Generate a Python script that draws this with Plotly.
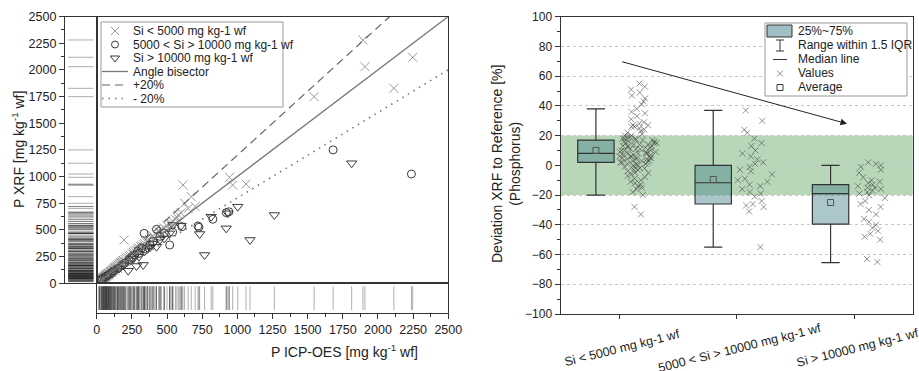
import plotly.graph_objects as go

# ---------------- Left panel data (P ICP-OES vs P XRF, mg/kg wf) ----------------
g1_icp = [12, 18, 22, 25, 30, 34, 38, 40, 45, 48, 50, 55, 58, 60, 63, 66, 70, 72, 75, 78,
          80, 84, 88, 90, 95, 98, 100, 105, 110, 115, 120, 125, 130, 135, 140, 145, 150, 155, 160, 165,
          170, 175, 180, 185, 190, 195, 200, 210, 220, 230, 240, 250, 260, 270, 280, 290, 300, 310, 320, 330,
          340, 350, 360, 375, 390, 400, 420, 440, 460, 480, 500, 520, 540, 560, 580, 600, 613, 625, 650, 672,
          700, 944, 967, 1062, 1546, 1893, 1907, 2113, 2247,
          20, 35, 52, 65, 85, 108, 128, 148, 172, 205, 235, 265, 295, 335, 365, 410, 450, 530, 570, 590]
g1_xrf = [14, 20, 25, 24, 33, 36, 40, 44, 47, 52, 55, 58, 60, 66, 68, 70, 75, 80, 78, 85,
          88, 90, 95, 92, 104, 108, 110, 112, 120, 126, 128, 140, 145, 150, 155, 160, 170, 168, 180, 185,
          190, 195, 200, 210, 215, 406, 225, 235, 245, 255, 262, 280, 290, 300, 310, 325, 330, 345, 350, 365,
          375, 390, 400, 410, 430, 445, 470, 490, 505, 520, 540, 560, 580, 600, 640, 660, 921, 750, 700, 812,
          720, 993, 921, 930, 1749, 2280, 2030, 1827, 2118,
          18, 30, 50, 62, 80, 100, 122, 140, 165, 200, 230, 270, 300, 330, 370, 420, 470, 560, 620, 580]

g2_icp = [40, 60, 80, 100, 120, 150, 180, 200, 230, 250, 270, 290, 300, 320, 337, 350, 380, 400, 425, 450,
          480, 519, 540, 606, 720, 727, 826, 921, 940, 1681, 2238]
g2_xrf = [45, 62, 75, 95, 118, 140, 170, 190, 220, 240, 265, 300, 280, 330, 468, 320, 360, 390, 506, 440,
          470, 359, 480, 530, 537, 525, 600, 662, 670, 1250, 1024]

g3_icp = [50, 70, 90, 110, 130, 160, 190, 224, 240, 260, 283, 300, 330, 340, 360, 380, 400, 425, 450, 480,
          519, 542, 600, 732, 767, 814, 921, 932, 1003, 1090, 1263, 1813]
g3_xrf = [45, 60, 80, 95, 115, 140, 170, 118, 215, 230, 162, 250, 172, 300, 330, 340, 370, 343, 410, 420,
          468, 546, 540, 462, 265, 624, 515, 656, 718, 406, 640, 1125]

left_legend_labels = ["Si < 5000 mg kg-1 wf", "5000 < Si > 10000 mg kg-1 wf", "Si > 10000 mg kg-1 wf",
                      "Angle bisector", "+20%", "- 20%"]
ref_factors = [1.0, 1.2, 0.8]
axis_max = 2500
left_ticks = [0, 250, 500, 750, 1000, 1250, 1500, 1750, 2000, 2250, 2500]

# ---------------- Right panel data (deviation %, phosphorus) ----------------
categories = ["Si < 5000 mg kg-1 wf", "5000 < Si > 10000 mg kg-1 wf", "Si > 10000 mg kg-1 wf"]
dev_g1 = [55, 53, 51, 49, 47, 45, 43, 41, 38, 36, 35, 33, 31, 29, 28, 27, 27, 26, 26, 25, 24, 23, 22, 21,
          20, 20, 19, 19, 18, 18, 18, 17, 17, 17, 16, 16, 16, 15, 15, 15, 14, 14, 14, 13, 13, 13, 12, 12, 12,
          11, 11, 11, 10, 10, 10, 9, 9, 9, 8, 8, 8, 8, 7, 7, 7, 6, 6, 6, 5, 5, 5, 5, 4, 4, 4, 3, 3, 3,
          2, 2, 2, 1, 1, 1, 0, 0, -1, -1, -2, -2, -3, -3, -4, -5, -5, -6, -7, -8, -9, -10, -11, -12, -13,
          -14, -15, -16, -18, -20, -28, -33]
dev_g2 = [37, 30, 24, 22, 18, 15, 13, 10, 8, 6, 4, 2, 1, -1, -3, -4, -6, -9, -10, -11, -13, -14, -16, -18,
          -19, -21, -24, -26, -27, -28, -31, -55]
dev_g3 = [2, 1, 0, -1, -3, -5, -8, -10, -11, -12, -13, -14, -15, -15, -16, -17, -18, -19, -20, -22, -24,
          -26, -28, -30, -33, -36, -38, -40, -42, -44, -46, -48, -50, -63, -65]
box_q1 = [2, -26, -39.5]
box_median = [8, -11.7, -19]
box_q3 = [17, 0, -13]
box_lower = [-20, -55, -65.5]
box_upper = [38, 37, 0]
box_mean = [10, -9.5, -25]
band = [-20, 20]
trend_from = [1.01, 70]
trend_to = [2.94, 28]
right_legend_labels = ["25%~75%", "Range within 1.5 IQR", "Median line", "Values", "Average"]

# ---------------- styling ----------------
W, H = 919, 371
FONT = "Liberation Sans, Arial, sans-serif"
AX = "#333333"
G1C = "#9a9a9a"
DK = "#3c3c3c"
BOXFILL = "rgba(70,130,140,0.45)"
RUG = "rgba(0,0,0,0.32)"


def px_x(p):
    return p / W


def px_y(p):
    return 1 - p / H


fig = go.Figure()

# main scatter (x, y)
fig.add_trace(go.Scatter(x=g1_icp, y=g1_xrf, mode="markers", xaxis="x", yaxis="y",
                         marker=dict(symbol="x-thin-open", size=9, color=G1C, line=dict(width=1, color=G1C)),
                         showlegend=False, hoverinfo="skip"))
fig.add_trace(go.Scatter(x=g2_icp, y=g2_xrf, mode="markers", xaxis="x", yaxis="y",
                         marker=dict(symbol="circle-open", size=8, color=DK, line=dict(width=1, color=DK)),
                         showlegend=False, hoverinfo="skip"))
fig.add_trace(go.Scatter(x=g3_icp, y=g3_xrf, mode="markers", xaxis="x", yaxis="y",
                         marker=dict(symbol="triangle-down-open", size=9, color=DK, line=dict(width=1, color=DK)),
                         showlegend=False, hoverinfo="skip"))

ref_styles = [dict(color="#777777", width=1.3, dash="solid"),
              dict(color="#666666", width=1.2, dash="8px,5px"),
              dict(color="#777777", width=1.6, dash="1.5px,5px")]
for f, st in zip(ref_factors, ref_styles):
    xe = min(axis_max, axis_max / f)
    fig.add_trace(go.Scatter(x=[0, xe], y=[0, f * xe], mode="lines", xaxis="x", yaxis="y",
                             line=st, showlegend=False, hoverinfo="skip"))

# rugs
all_icp = g1_icp + g2_icp + g3_icp
all_xrf = g1_xrf + g2_xrf + g3_xrf
rx, ry = [], []
for v in all_icp:
    rx += [v, v, None]
    ry += [0.1, 0.9, None]
fig.add_trace(go.Scatter(x=rx, y=ry, mode="lines", xaxis="x3", yaxis="y3",
                         line=dict(color=RUG, width=1), showlegend=False, hoverinfo="skip"))
lx, ly = [], []
for v in all_xrf:
    lx += [0.1, 0.9, None]
    ly += [v, v, None]
fig.add_trace(go.Scatter(x=lx, y=ly, mode="lines", xaxis="x2", yaxis="y2",
                         line=dict(color=RUG, width=1), showlegend=False, hoverinfo="skip"))

# right panel boxes
cat_pos = [1, 2, 3]
box_x = [c - 0.2 for c in cat_pos]
fig.add_trace(go.Box(x=box_x, q1=box_q1, median=box_median, q3=box_q3,
                     lowerfence=box_lower, upperfence=box_upper, width=0.31, whiskerwidth=0.5,
                     fillcolor=BOXFILL, line=dict(color=AX, width=1.2), boxpoints=False,
                     xaxis="x4", yaxis="y4", showlegend=False, hoverinfo="skip"))
fig.add_trace(go.Scatter(x=box_x, y=box_mean, mode="markers", xaxis="x4", yaxis="y4",
                         marker=dict(symbol="square-open", size=6, color="#555555", line=dict(width=1, color="#555555")),
                         showlegend=False, hoverinfo="skip"))
for c, vals in zip(cat_pos, [dev_g1, dev_g2, dev_g3]):
    fig.add_trace(go.Box(y=vals, x=[c + 0.16] * len(vals), boxpoints="all", jitter=1, pointpos=0, width=0.32,
                         fillcolor="rgba(0,0,0,0)", line=dict(width=0, color="rgba(0,0,0,0)"),
                         marker=dict(symbol="x-thin-open", size=6, color="rgba(60,60,60,0.55)",
                                     line=dict(width=1, color="rgba(60,60,60,0.55)")),
                         xaxis="x4", yaxis="y4", showlegend=False, hoverinfo="skip"))

# legend marker symbols on full-figure overlay axis (pixel coordinates)
leg_marks = [(115, 31, "x-thin-open", 8, G1C), (115, 44.5, "circle-open", 7, DK),
             (115, 58, "triangle-down-open", 8, DK), (780, 73.5, "x-thin-open", 6, "#888888"),
             (780, 87.5, "square-open", 6, DK)]
for mx, my, sym, sz, col in leg_marks:
    fig.add_trace(go.Scatter(x=[mx], y=[my], mode="markers", xaxis="x5", yaxis="y5",
                             marker=dict(symbol=sym, size=sz, color=col, line=dict(width=1, color=col)),
                             showlegend=False, hoverinfo="skip"))

shapes = []
# green band
shapes.append(dict(type="rect", xref="x4 domain", yref="y4", x0=0, x1=1, y0=band[0], y1=band[1],
                   fillcolor="rgb(184,214,184)", line=dict(width=0), layer="below"))
# left legend box
shapes.append(dict(type="rect", xref="x5", yref="y5", x0=101, x1=283, y0=22, y1=107,
                   fillcolor="white", line=dict(color="#999999", width=1), layer="below"))
for yy, st in zip([71.5, 85, 98.5], ref_styles):
    shapes.append(dict(type="line", xref="x5", yref="y5", x0=102, x1=128, y0=yy, y1=yy, line=st))
# right legend box
shapes.append(dict(type="rect", xref="x5", yref="y5", x0=765, x1=907, y0=23, y1=96,
                   fillcolor="white", line=dict(color="#999999", width=1), layer="below"))
shapes.append(dict(type="rect", xref="x5", yref="y5", x0=767, x1=792, y0=25, y1=37,
                   fillcolor="rgb(160,190,196)", line=dict(color=AX, width=1)))
shapes.append(dict(type="line", xref="x5", yref="y5", x0=780, x1=780, y0=40, y1=51, line=dict(color=AX, width=1)))
shapes.append(dict(type="line", xref="x5", yref="y5", x0=776, x1=784, y0=40, y1=40, line=dict(color=AX, width=1)))
shapes.append(dict(type="line", xref="x5", yref="y5", x0=776, x1=784, y0=51, y1=51, line=dict(color=AX, width=1)))
shapes.append(dict(type="line", xref="x5", yref="y5", x0=773, x1=787, y0=59.5, y1=59.5, line=dict(color=AX, width=1)))

ann = []
for i, lab in enumerate(left_legend_labels):
    ann.append(dict(x=131, y=31 + 13.5 * i, xref="x5", yref="y5", text=lab, showarrow=False,
                    xanchor="left", yanchor="middle", font=dict(size=12, color="#222")))
for i, lab in enumerate(right_legend_labels):
    ann.append(dict(x=796, y=31 + 14.1 * i, xref="x5", yref="y5", text=lab, showarrow=False,
                    xanchor="left", yanchor="middle", font=dict(size=12, color="#222")))
# axis titles
ann.append(dict(x=px_x(7), y=px_y(150), xref="paper", yref="paper", text="P XRF [mg kg<sup>-1</sup> wf]",
                textangle=-90, showarrow=False, font=dict(size=14, color="#222")))
ann.append(dict(x=px_x(269), y=px_y(362), xref="paper", yref="paper", text="P ICP-OES [mg kg<sup>-1</sup> wf]",
                showarrow=False, font=dict(size=14, color="#222")))
ann.append(dict(x=px_x(506), y=px_y(164), xref="paper", yref="paper",
                text="Deviation XRF to Reference [%]<br>(Phosphorus)",
                textangle=-90, showarrow=False, font=dict(size=14, color="#222")))
# category labels
for c, lab in zip(cat_pos, categories):
    ann.append(dict(x=c, y=px_y(348), xref="x4", yref="paper", text=lab, textangle=-14, xshift=3,
                    showarrow=False, xanchor="center", yanchor="middle", font=dict(size=12.5, color="#222")))
# trend arrow
ann.append(dict(x=trend_to[0], y=trend_to[1], ax=trend_from[0], ay=trend_from[1], xref="x4", yref="y4",
                axref="x4", ayref="y4", text="", showarrow=True, arrowhead=2, arrowsize=1.3,
                arrowwidth=1, arrowcolor="#222"))

lw = 1.3
common_line = dict(showline=True, linecolor=AX, linewidth=lw, mirror=True, zeroline=False, showgrid=False,
                   automargin=False)
dom_main_x = [px_x(96.7), px_x(448.3)]
dom_main_y = [px_y(283.3), px_y(16.5)]

fig.update_layout(
    template="none",
    width=W, height=H, autosize=False, margin=dict(l=0, r=0, t=0, b=0, pad=0, autoexpand=False),
    paper_bgcolor="white", plot_bgcolor="rgba(0,0,0,0)",
    font=dict(family=FONT, size=12, color="#222"),
    showlegend=False,
    xaxis=dict(domain=dom_main_x, range=[0, axis_max], anchor="y", ticks="", showticklabels=False, **common_line),
    yaxis=dict(domain=dom_main_y, range=[0, axis_max], anchor="x", ticks="", showticklabels=False, **common_line),
    xaxis2=dict(domain=[px_x(65), px_x(96.7)], range=[0, 1], anchor="y2", ticks="", showticklabels=False, **common_line),
    yaxis2=dict(domain=dom_main_y, range=[0, axis_max], anchor="x2", tickvals=left_ticks, ticks="outside",
                ticklen=5, tickcolor=AX, tickfont=dict(size=12.5),
                minor=dict(ticks="outside", ticklen=3, dtick=125, tickcolor=AX), **common_line),
    xaxis3=dict(domain=dom_main_x, range=[0, axis_max], anchor="y3", tickvals=left_ticks, ticks="outside",
                ticklen=5, tickcolor=AX, tickfont=dict(size=12.5),
                minor=dict(ticks="outside", ticklen=3, dtick=125, tickcolor=AX), **common_line),
    yaxis3=dict(domain=[px_y(313), px_y(283.3)], range=[0, 1], anchor="x3", ticks="", showticklabels=False, **common_line),
    xaxis4=dict(domain=[px_x(560.7), px_x(912.7)], range=[0.5, 3.5], anchor="y4", tickvals=cat_pos,
                showticklabels=False, ticks="outside", ticklen=4, tickcolor=AX, automargin=False,
                showline=True, linecolor=AX, linewidth=lw, mirror=True, zeroline=False, showgrid=False),
    yaxis4=dict(domain=[px_y(314), px_y(16.7)], range=[-100, 100], anchor="x4", dtick=20, ticks="outside",
                ticklen=5, tickcolor=AX, tickfont=dict(size=12), automargin=False,
                minor=dict(ticks="outside", ticklen=3, dtick=10, tickcolor=AX, showgrid=False),
                showgrid=True, gridcolor="#c8c8c8", griddash="dot", gridwidth=1,
                showline=True, linecolor=AX, linewidth=lw, mirror=True, zeroline=False),
    xaxis5=dict(domain=[0, 1], range=[0, W], anchor="y5", visible=False, fixedrange=True, automargin=False),
    yaxis5=dict(domain=[0, 1], range=[H, 0], anchor="x5", visible=False, fixedrange=True, automargin=False),
    shapes=shapes, annotations=ann,
)

fig.write_html("out.html")
